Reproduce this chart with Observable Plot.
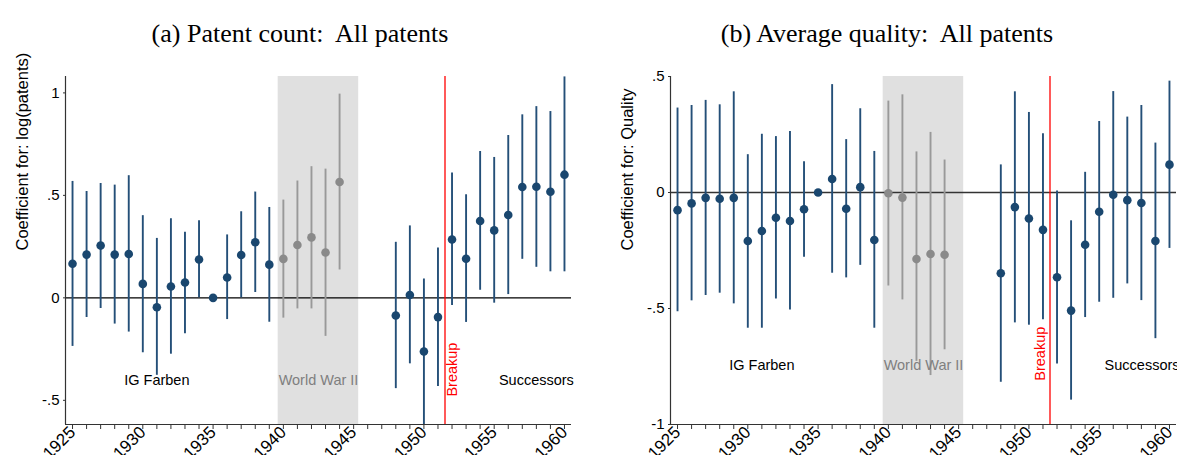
<!DOCTYPE html>
<html>
<head>
<meta charset="utf-8">
<script src="https://cdn.jsdelivr.net/npm/d3@7"></script>
<script src="https://cdn.jsdelivr.net/npm/@observablehq/plot@0.6"></script>
<style>
  body { margin: 0; background: #fff; }
  #root { position: relative; width: 1177px; height: 455px; overflow: hidden; background: #fff; }
  .title { position: absolute; top: 21px; font-family: "Liberation Serif", "Times New Roman", serif; font-size: 26px; line-height: 1; text-align: center; color: #000; white-space: pre; }
  .panel { position: absolute; top: 60px; }
</style>
</head>
<body>
<div id="root">
  <div class="title" id="t1" style="left:0; width:600px;"></div>
  <div class="title" id="t2" style="left:588px; width:598px;"></div>
  <div class="panel" id="p1" style="left:0;"></div>
  <div class="panel" id="p2" style="left:588px;"></div>
</div>
<script>
// ---------- data ----------
const titleA = "(a) Patent count:  All patents";
const titleB = "(b) Average quality:  All patents";
const yLabelA = "Coefficient for: log(patents)";
const yLabelB = "Coefficient for: Quality";

const years = [1925,1926,1927,1928,1929,1930,1931,1932,1933,1934,1935,1936,1937,1938,1939,
               1940,1941,1942,1943,1944,
               1948,1949,1950,1951,1952,1953,1954,1955,1956,1957,1958,1959,1960];
const warYears = [1940,1941,1942,1943,1944];

// Panel (a): patent count
const estA = [0.166,0.211,0.255,0.211,0.214,0.068,-0.046,0.055,0.075,0.187,0.000,0.099,0.209,0.271,0.162,
              0.190,0.258,0.295,0.221,0.565,
              -0.086,0.014,-0.262,-0.094,0.285,0.191,0.375,0.329,0.404,0.541,0.542,0.518,0.601];
const loA  = [-0.237,-0.096,-0.052,-0.128,-0.167,-0.268,-0.378,-0.275,-0.175,0.000,null,-0.106,0.000,0.026,-0.119,
              -0.099,-0.054,-0.054,-0.188,0.136,
              -0.443,-0.322,-0.618,-0.432,-0.037,-0.120,0.037,-0.026,0.016,0.188,0.149,0.127,0.127];
const hiA  = [0.568,0.519,0.558,0.550,0.596,0.401,0.290,0.386,0.320,0.376,null,0.307,0.420,0.516,0.441,
              0.477,0.570,0.640,0.628,0.994,
              0.271,0.351,0.092,0.243,0.609,0.503,0.714,0.685,0.792,0.893,0.933,0.909,1.078];

// Panel (b): average quality
const estB = [-0.076,-0.047,-0.023,-0.027,-0.023,-0.209,-0.166,-0.109,-0.123,-0.072,0.000,0.058,-0.070,0.023,-0.205,
              -0.003,-0.022,-0.287,-0.265,-0.268,
              -0.348,-0.063,-0.112,-0.161,-0.365,-0.509,-0.225,-0.083,-0.010,-0.033,-0.045,-0.209,0.120];
const loB  = [-0.514,-0.467,-0.444,-0.434,-0.480,-0.585,-0.585,-0.459,-0.506,-0.279,null,-0.348,-0.368,-0.314,-0.585,
              -0.403,-0.463,-0.728,-0.789,-0.678,
              -0.818,-0.562,-0.572,-0.549,-0.739,-0.895,-0.539,-0.473,-0.456,-0.394,-0.466,-0.630,-0.241];
const hiB  = [0.364,0.375,0.397,0.378,0.434,0.163,0.251,0.241,0.263,0.133,null,0.465,0.228,0.361,0.177,
              0.394,0.421,0.175,0.259,0.140,
              0.119,0.434,0.345,0.253,0.006,-0.122,0.087,0.306,0.435,0.325,0.375,0.213,0.480];

const xDomain = [1924.5, 1960.5];
const warBand = [1939.63, 1945.36];
const breakupYear = 1951.5;
const xTicks = d3.range(1925, 1961);

const yDomainA = [-0.618, 1.08];
const yTicksA = [-0.5, 0, 0.5, 1];
const yTickLabelsA = ["-.5", "0", ".5", "1"];
const yDomainB = [-1, 0.5];
const yTicksB = [-1, -0.5, 0, 0.5];
const yTickLabelsB = ["-1", "-.5", "0", ".5"];

// annotation positions (data units)
const notesA = [
  {label: "IG Farben", x: 1931, y: -0.403, kind: "era"},
  {label: "World War II", x: 1942.5, y: -0.403, kind: "war"},
  {label: "Successors", x: 1958, y: -0.403, kind: "era"}
];
const breakA = {label: "Breakup", x: 1952.05, y: -0.35};
const notesB = [
  {label: "IG Farben", x: 1931, y: -0.745, kind: "era"},
  {label: "World War II", x: 1942.5, y: -0.745, kind: "war"},
  {label: "Successors", x: 1958.05, y: -0.745, kind: "era"}
];
const breakB = {label: "Breakup", x: 1950.82, y: -0.695};

// ---------- drawing ----------
const navy = "#1a476f";
const navyBar = "#244f78";
const grayDot = "#8a8a8a";
const grayBar = "#999999";

function makePanel({est, lo, hi, yDomain, yTicks, yTickLabels, yLabel, notes, brk, width, marginLeft, marginRight, zeroColor}) {
  const rows = years.map((yr, i) => ({year: yr, est: est[i], lo: lo[i], hi: hi[i], war: warYears.includes(yr)}));
  const bars = rows.filter(d => d.lo != null && d.hi != null);
  const labelMap = new Map(yTicks.map((t, i) => [t, yTickLabels[i]]));
  return Plot.plot({
    width, height: 395,
    marginTop: 16, marginBottom: 31, marginLeft, marginRight,
    style: {fontFamily: "'Liberation Sans', Arial, Helvetica, sans-serif", fontSize: "15px", color: "#000", overflow: "visible", background: "transparent"},
    x: {domain: xDomain, nice: false},
    y: {domain: yDomain, nice: false},
    marks: [
      Plot.rect([warBand], {x1: d => d[0], x2: d => d[1], fill: "#e0e0e0"}),
      Plot.ruleY([0], {stroke: zeroColor, strokeWidth: 1.3, x1: xDomain[0], x2: xDomain[1]}),
      Plot.ruleX([breakupYear], {stroke: "#ff0000", strokeWidth: 1.3}),
      Plot.ruleX(bars, {x: "year", y1: "lo", y2: "hi", stroke: d => d.war ? grayBar : navyBar, strokeWidth: 1.9}),
      Plot.dot(rows, {x: "year", y: "est", r: 4.3, fill: d => d.war ? grayDot : navy, stroke: "none"}),
      Plot.text(notes, {x: "x", y: "y", text: "label", fill: d => d.kind === "war" ? "#7f7f7f" : "#000", fontSize: 14.5}),
      Plot.text([brk], {x: "x", y: "y", text: "label", rotate: -90, fill: "#ff0000", fontSize: 14.5}),
      Plot.ruleX([xDomain[0]], {stroke: "#333", strokeWidth: 1.2}),
      Plot.ruleY([yDomain[0]], {stroke: "#333", strokeWidth: 1.2}),
      Plot.axisX({ticks: xTicks, tickFormat: d => d % 5 === 0 ? String(d) : "", tickSize: 5, tickRotate: -45, tickPadding: 0, fontSize: 17, stroke: "#333", label: null}),
      Plot.axisY({ticks: yTicks, tickFormat: d => labelMap.get(d), tickSize: 2, tickPadding: 4, stroke: "#333", label: null}),
      Plot.text([yLabel], {text: d => d, frameAnchor: "left", dx: -43, rotate: -90, fontSize: 16.5, fill: "#000"})
    ]
  });
}

document.getElementById("t1").textContent = titleA;
document.getElementById("t2").textContent = titleB;

document.getElementById("p1").appendChild(makePanel({
  est: estA, lo: loA, hi: hiA, yDomain: yDomainA, yTicks: yTicksA, yTickLabels: yTickLabelsA,
  yLabel: yLabelA, notes: notesA, brk: breakA, width: 588, marginLeft: 65, marginRight: 17, zeroColor: "#000"
}));
document.getElementById("p2").appendChild(makePanel({
  est: estB, lo: loB, hi: hiB, yDomain: yDomainB, yTicks: yTicksB, yTickLabels: yTickLabelsB,
  yLabel: yLabelB, notes: notesB, brk: breakB, width: 589, marginLeft: 82, marginRight: 1, zeroColor: "#333"
}));
</script>
</body>
</html>
